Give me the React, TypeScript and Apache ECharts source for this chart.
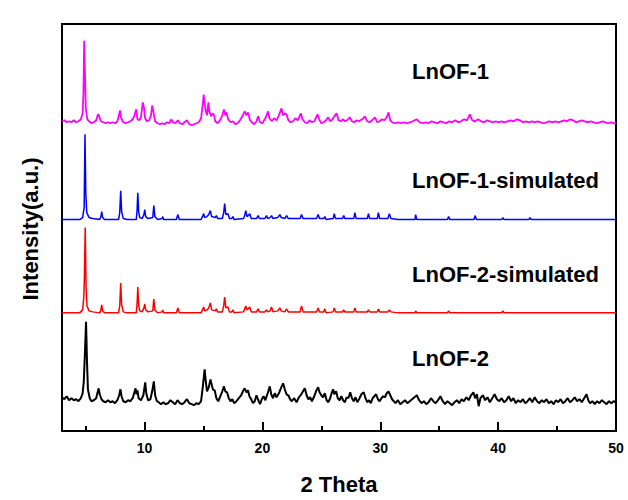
import React, { useEffect, useRef } from "react";
import * as echarts from "echarts";

const xMajorTicks = [10, 20, 30, 40, 50];
const xMinorTicks = [5, 15, 25, 35, 45];

const traceNames = ["LnOF-1", "LnOF-1-simulated", "LnOF-2-simulated", "LnOF-2"];
const traceColors = ["#ff00ff", "#0000ff", "#ff0000", "#000000"];

const lnof1: number[][] = [
[3.0,312],[3.2,313],[3.4,311],[3.6,312],[3.8,311],[4.0,313],[4.2,311],[4.4,312],[4.6,314],[4.75,320],[4.82,340],[4.88,393],[4.95,360],[5.02,325],[5.15,314],[5.3,312],[5.5,310],[5.7,311],[5.9,313],[6.05,319],[6.15,317],[6.3,312],[6.5,311],[6.7,310],[6.9,311],[7.1,310],[7.3,311],[7.5,310],[7.7,312],[7.85,319],[7.92,323],[8.0,316],[8.2,311],[8.4,310],[8.6,311],[8.8,312],[9.0,314],[9.15,318],[9.3,324],[9.4,314],[9.55,313],[9.7,316],[9.85,331],[9.95,326],[10.05,315],[10.2,312],[10.4,313],[10.55,318],[10.65,328],[10.75,322],[10.9,312],[11.1,310],[11.3,309],[11.5,310],[11.7,309],[11.9,311],[12.1,310],[12.27,314],[12.4,311],[12.6,310],[12.83,313],[13.0,310],[13.2,309],[13.4,311],[13.6,313],[13.8,309],[14.0,308],[14.2,309],[14.4,310],[14.6,311],[14.8,315],[14.95,330],[15.02,339],[15.1,330],[15.2,322],[15.3,318],[15.42,331],[15.5,322],[15.65,317],[15.8,320],[15.9,318],[16.0,312],[16.2,310],[16.4,313],[16.6,318],[16.74,324],[16.85,318],[16.94,321],[17.1,314],[17.3,311],[17.5,312],[17.7,309],[17.9,310],[18.1,313],[18.3,317],[18.5,322],[18.65,318],[18.78,321],[18.95,313],[19.1,311],[19.3,309],[19.5,312],[19.64,317],[19.8,311],[20.0,310],[20.2,314],[20.35,318],[20.48,322],[20.6,315],[20.8,312],[21.0,315],[21.2,313],[21.4,318],[21.62,325],[21.75,318],[21.9,320],[22.05,319],[22.2,313],[22.4,311],[22.6,312],[22.8,315],[23.0,313],[23.26,320],[23.4,314],[23.6,311],[23.8,310],[24.0,313],[24.2,311],[24.4,312],[24.68,319],[24.85,313],[25.0,310],[25.2,311],[25.4,313],[25.58,316],[25.75,312],[25.95,314],[26.1,317],[26.3,320],[26.45,313],[26.65,312],[26.85,314],[27.0,312],[27.2,313],[27.4,316],[27.6,312],[27.8,311],[28.0,313],[28.2,312],[28.45,314],[28.7,317],[28.9,312],[29.1,311],[29.3,313],[29.55,316],[29.75,311],[29.95,312],[30.15,314],[30.35,313],[30.55,316],[30.7,321],[30.85,313],[31.0,311],[31.25,310],[31.5,311],[31.75,310],[32.0,311],[32.25,310],[32.5,311],[32.75,312],[33.1,314],[33.35,311],[33.6,310],[33.85,311],[34.1,310],[34.35,312],[34.6,311],[34.85,310],[35.1,312],[35.35,311],[35.6,310],[35.85,312],[36.1,311],[36.35,313],[36.6,311],[36.85,312],[37.1,314],[37.35,313],[37.6,319],[37.8,313],[38.05,312],[38.3,314],[38.55,312],[38.8,311],[39.05,313],[39.3,312],[39.55,311],[39.8,312],[40.05,311],[40.3,312],[40.55,311],[40.8,312],[41.05,313],[41.3,312],[41.6,314],[41.85,313],[42.1,311],[42.35,312],[42.6,311],[42.85,312],[43.1,311],[43.35,312],[43.6,311],[43.85,310],[44.1,311],[44.35,312],[44.6,311],[44.85,312],[45.1,311],[45.35,312],[45.6,313],[45.85,312],[46.1,314],[46.35,313],[46.6,311],[46.85,312],[47.1,313],[47.35,312],[47.6,311],[47.85,312],[48.1,311],[48.35,310],[48.6,311],[48.85,312],[49.1,311],[49.35,310],[49.6,311],[49.85,310],[50,310]
];

const lnof1Sim: number[][] = [
[3,213],[4.5,213],[4.75,215],[4.88,225],[4.95,299],[5.02,240],[5.1,220],[5.3,215],[5.6,214],[6.2,213],[6.3,216],[6.37,221],[6.45,215],[6.6,213],[7.8,213],[7.9,220],[7.98,242],[8.06,221],[8.2,214],[8.5,213],[9.3,213],[9.37,222],[9.43,240],[9.51,220],[9.6,215],[9.8,214],[9.95,218],[10.02,223],[10.1,216],[10.3,214],[10.7,215],[10.79,227],[10.88,216],[11.1,213],[11.5,214],[11.55,216],[11.62,213],[12.7,213],[12.83,218],[12.95,213],[14.8,213],[14.95,217],[15.02,219],[15.1,215],[15.3,216],[15.45,218],[15.58,222],[15.7,216],[16.0,215],[16.1,217],[16.2,214],[16.6,214],[16.72,220],[16.8,229],[16.9,218],[17.08,219],[17.2,214],[17.4,214],[17.5,216],[17.6,213],[18.4,214],[18.5,217],[18.59,222],[18.7,216],[18.8,217],[18.93,219],[19.05,214],[19.5,214],[19.64,217],[19.75,214],[20.2,214],[20.35,217],[20.45,214],[20.65,215],[20.77,217],[20.9,214],[21.3,215],[21.48,218],[21.6,215],[21.9,214],[22.05,217],[22.2,214],[23.2,214],[23.32,218],[23.45,214],[24.6,214],[24.73,218],[24.85,214],[25.2,214],[25.3,216],[25.4,213],[26.0,214],[26.1,219],[26.2,214],[26.8,214],[26.9,217],[27.0,214],[27.75,214],[27.85,220],[27.95,214],[28.9,214],[29.0,219],[29.1,214],[29.75,214],[29.84,220],[29.95,214],[30.65,214],[30.77,219],[30.9,214],[31.5,213],[32.95,213],[33.0,218],[33.1,213],[35.7,213],[35.8,216],[35.9,213],[37.95,213],[38.06,217],[38.15,213],[40.3,213],[40.4,215],[40.5,213],[42.6,213],[42.7,215],[42.8,213],[50,213]
];

const lnof2Sim: number[][] = [
[3,119],[4.5,119],[4.75,122],[4.85,135],[4.9,155],[4.97,205],[5.04,145],[5.12,126],[5.3,121],[5.6,120],[6.2,119],[6.3,122],[6.37,127],[6.45,121],[6.6,119],[7.8,119],[7.9,126],[7.98,149],[8.06,127],[8.2,120],[8.5,119],[9.3,119],[9.37,128],[9.43,145],[9.51,126],[9.6,121],[9.8,120],[9.95,124],[10.02,128],[10.1,122],[10.3,120],[10.7,121],[10.79,133],[10.88,122],[11.1,119],[11.5,120],[11.55,122],[11.62,119],[12.7,119],[12.83,124],[12.95,119],[14.8,119],[14.95,123],[15.02,125],[15.1,121],[15.3,122],[15.45,124],[15.58,129],[15.7,122],[16.0,121],[16.1,123],[16.2,120],[16.6,120],[16.72,126],[16.8,135],[16.9,124],[17.08,125],[17.2,120],[17.4,120],[17.5,122],[17.6,119],[18.4,120],[18.5,123],[18.59,126],[18.7,122],[18.8,123],[18.93,125],[19.05,120],[19.5,120],[19.64,123],[19.75,120],[20.2,120],[20.35,122],[20.45,120],[20.65,121],[20.77,125],[20.9,120],[21.3,121],[21.48,124],[21.6,121],[21.9,120],[22.05,123],[22.2,120],[23.2,120],[23.32,126],[23.45,120],[24.6,120],[24.73,124],[24.85,120],[25.2,120],[25.3,123],[25.4,119],[26.0,120],[26.1,124],[26.2,120],[26.8,120],[26.9,122],[27.0,120],[27.75,120],[27.85,124],[27.95,120],[28.9,120],[29.0,122],[29.1,120],[29.75,120],[29.84,123],[29.95,120],[30.65,120],[30.77,122],[30.9,120],[31.5,119],[32.95,119],[33.0,121],[33.1,119],[35.7,119],[35.8,121],[35.9,119],[40.3,119],[40.4,121],[40.5,119],[50,119]
];

const lnof2: number[][] = [
[3,34],[3.2,32],[3.4,35],[3.6,31],[3.8,33],[4.0,31],[4.2,32],[4.4,30],[4.6,33],[4.75,38],[4.85,50],[4.95,80],[5.04,110],[5.12,70],[5.2,42],[5.35,33],[5.5,30],[5.7,31],[5.9,33],[6.0,38],[6.11,43],[6.2,37],[6.35,32],[6.5,30],[6.7,29],[6.9,31],[7.1,29],[7.3,30],[7.5,28],[7.7,31],[7.85,36],[7.96,42],[8.05,35],[8.2,30],[8.4,29],[8.6,31],[8.8,30],[9.0,33],[9.12,38],[9.24,43],[9.32,37],[9.4,41],[9.5,33],[9.7,31],[9.9,36],[10.06,49],[10.15,38],[10.3,31],[10.5,32],[10.65,40],[10.79,50],[10.9,36],[11.05,30],[11.2,29],[11.4,27],[11.6,29],[11.8,27],[12.0,28],[12.2,31],[12.4,29],[12.6,27],[12.8,31],[13.0,28],[13.2,27],[13.4,29],[13.6,32],[13.8,28],[14.0,27],[14.2,26],[14.4,28],[14.6,27],[14.8,30],[14.95,45],[15.1,62],[15.2,50],[15.3,40],[15.45,44],[15.6,52],[15.67,48],[15.8,42],[15.95,41],[16.1,33],[16.25,30],[16.4,34],[16.6,40],[16.74,45],[16.85,40],[17.0,39],[17.15,33],[17.3,30],[17.45,32],[17.6,28],[17.8,30],[18.0,33],[18.2,36],[18.35,40],[18.5,43],[18.65,39],[18.78,41],[18.9,35],[19.05,32],[19.2,28],[19.35,30],[19.5,36],[19.65,31],[19.8,27],[19.95,32],[20.1,35],[20.25,31],[20.45,38],[20.63,45],[20.75,37],[20.9,33],[21.05,38],[21.2,34],[21.4,38],[21.6,44],[21.76,48],[21.9,42],[22.05,37],[22.2,36],[22.35,32],[22.5,30],[22.7,33],[22.9,29],[23.1,34],[23.3,37],[23.45,40],[23.6,43],[23.75,36],[23.9,32],[24.05,34],[24.2,30],[24.4,35],[24.55,40],[24.73,44],[24.85,39],[25.0,36],[25.15,34],[25.3,38],[25.45,31],[25.6,29],[25.75,33],[25.9,39],[26.0,42],[26.1,37],[26.25,40],[26.4,33],[26.55,31],[26.7,35],[26.85,31],[27.0,29],[27.15,34],[27.3,33],[27.45,39],[27.6,33],[27.75,30],[27.9,34],[28.05,29],[28.2,32],[28.4,37],[28.6,39],[28.75,33],[28.9,29],[29.05,31],[29.2,28],[29.35,33],[29.5,35],[29.65,37],[29.8,32],[29.95,30],[30.1,33],[30.25,35],[30.4,34],[30.55,38],[30.7,40],[30.85,36],[31.0,32],[31.15,30],[31.3,28],[31.5,31],[31.7,27],[31.9,29],[32.1,31],[32.3,28],[32.5,30],[32.7,32],[32.9,34],[33.1,36],[33.3,31],[33.5,28],[33.7,30],[33.9,27],[34.1,29],[34.3,33],[34.5,30],[34.7,28],[34.9,31],[35.1,35],[35.3,30],[35.5,27],[35.7,30],[35.9,28],[36.1,26],[36.3,29],[36.5,31],[36.7,28],[36.9,32],[37.1,30],[37.3,34],[37.5,31],[37.7,36],[37.9,39],[38.05,33],[38.2,37],[38.35,25],[38.5,33],[38.7,36],[38.9,31],[39.1,34],[39.3,29],[39.5,33],[39.7,37],[39.9,32],[40.1,30],[40.3,33],[40.5,29],[40.7,31],[40.9,35],[41.1,30],[41.3,33],[41.5,28],[41.7,31],[41.9,29],[42.1,32],[42.3,28],[42.5,30],[42.7,33],[42.9,29],[43.1,34],[43.3,30],[43.5,28],[43.7,31],[43.9,29],[44.1,32],[44.3,28],[44.5,30],[44.7,27],[44.9,31],[45.1,29],[45.3,32],[45.5,28],[45.7,30],[45.9,33],[46.1,29],[46.3,31],[46.5,34],[46.7,30],[46.9,32],[47.1,29],[47.3,33],[47.5,37],[47.65,31],[47.8,28],[48.0,30],[48.2,27],[48.4,30],[48.6,28],[48.8,31],[49.0,29],[49.2,27],[49.4,30],[49.6,28],[49.8,30],[50,29]
];

const traceData = [lnof1, lnof1Sim, lnof2Sim, lnof2];
const traceWidths = [1.8, 1.5, 1.5, 2];
const labelY = [73, 182, 276, 360];

const FONT = 'Arial, "Liberation Sans", Helvetica, sans-serif';

export default function App() {
  const ref = useRef<HTMLDivElement>(null);
  useEffect(() => {
    if (!ref.current) return;
    const chart = echarts.init(ref.current, null, { renderer: "svg" });
    const series: any[] = traceData.map((d, i) => ({
      name: traceNames[i],
      type: "line",
      data: d,
      showSymbol: false,
      silent: true,
      lineStyle: { color: traceColors[i], width: traceWidths[i] },
      itemStyle: { color: traceColors[i] },
      z: 2 + i,
    }));
    chart.setOption({
      animation: false,
      backgroundColor: "#ffffff",
      textStyle: { fontFamily: FONT },
      grid: {
        left: 62, right: 12, top: 24, bottom: 66,
        show: true, borderColor: "#000", borderWidth: 2,
        containLabel: false,
      },
      xAxis: [
        {
          type: "value", min: 3, max: 50, position: "bottom",
          axisLine: { show: true, onZero: false, lineStyle: { color: "#000", width: 2 } },
          axisTick: { show: true, inside: true, length: 9, customValues: xMajorTicks, lineStyle: { color: "#000", width: 2 } },
          axisLabel: { show: true, customValues: xMajorTicks, color: "#000", fontSize: 14, fontWeight: "bold", fontFamily: FONT, margin: 10 },
          splitLine: { show: false },
          name: "2 Theta", nameLocation: "middle", nameGap: 42,
          nameTextStyle: { color: "#000", fontSize: 22, fontWeight: "bold", fontFamily: FONT },
        },
        {
          type: "value", min: 3, max: 50, position: "bottom",
          axisLine: { show: false, onZero: false },
          axisTick: { show: true, inside: true, length: 5, customValues: xMinorTicks, lineStyle: { color: "#000", width: 2 } },
          axisLabel: { show: false },
          splitLine: { show: false },
        },
      ],
      yAxis: {
        type: "value", min: 0, max: 410,
        axisLine: { show: true, onZero: false, lineStyle: { color: "#000", width: 2 } },
        axisTick: { show: false },
        axisLabel: { show: false },
        splitLine: { show: false },
      },
      graphic: [
        ...traceNames.map((n, i) => ({
          type: "text",
          left: 412,
          top: labelY[i] - 13,
          silent: true,
          style: { text: n, fill: "#000", font: `bold 22px ${FONT}` },
        })),
        {
          type: "text",
          x: 30, y: 229,
          rotation: Math.PI / 2,
          silent: true,
          style: { text: "Intensity(a.u.)", fill: "#000", font: `bold 22px ${FONT}`, align: "center", verticalAlign: "middle" },
        },
      ],
      series,
    });
    return () => chart.dispose();
  }, []);
  return <div ref={ref} style={{ position: "fixed", left: 0, top: 0, width: 628, height: 500, background: "#fff" }} />;
}
